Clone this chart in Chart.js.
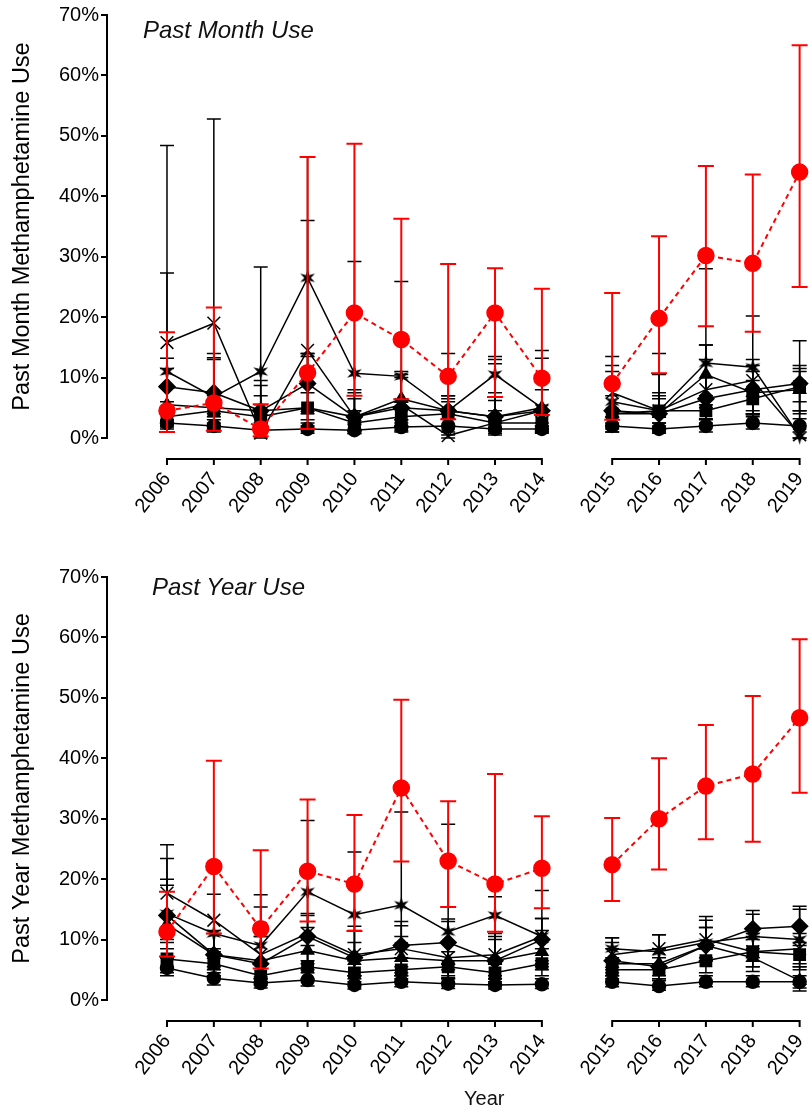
<!doctype html>
<html><head><meta charset="utf-8">
<script src="https://cdn.jsdelivr.net/npm/chart.js@4.4.1/dist/chart.umd.min.js"></script>
<style>
body{margin:0;background:#fff;width:812px;height:1114px;position:relative;overflow:hidden;font-family:"Liberation Sans",Arial,sans-serif;color:#111}
canvas{position:absolute;left:0}
#cMonth{top:0}#cYear{top:557px}
.ttl{position:absolute;font-style:italic;font-size:24px;line-height:26px;white-space:nowrap}
#year{position:absolute;left:464px;top:1086px;font-size:20px;line-height:24px}
</style></head><body>
<canvas id="cMonth" width="812" height="557"></canvas>
<canvas id="cYear" width="812" height="557"></canvas>
<div class="ttl" style="left:143px;top:17px">Past Month Use</div>
<div class="ttl" style="left:152px;top:574px">Past Year Use</div>
<div id="year">Year</div>
<script>
// 年份与横轴位置（2014 与 2015 之间断开 1.5 格）
const years = [2006, 2007, 2008, 2009, 2010, 2011, 2012, 2013, 2014, 2015, 2016, 2017, 2018, 2019];
const xPos = [0, 1, 2, 3, 4, 5, 6, 7, 8, 9.5, 10.5, 11.5, 12.5, 13.5];

// ---- Past Month（%）----
const monthRed   = [4.5, 5.8, 1.5, 10.8, 20.7, 16.3, 10.2, 20.7, 9.9, 9.0, 19.8, 30.2, 28.9, 44.0];
const monthRedLo = [1.0, 1.2, 0.3, 1.5, 7.0, 6.4, 3.1, 6.8, 3.8, 3.0, 10.7, 18.5, 17.6, 25.0];
const monthRedHi = [17.5, 21.6, 5.6, 46.5, 48.7, 36.3, 28.8, 28.1, 24.7, 24.0, 33.4, 45.0, 43.6, 65.0];

const monthX     = [15.8, 19.0, 0.8, 14.5, 3.5, 5.5, 0.4, 2.5, 4.5, 7.5, 4.5, 8.0, 9.5, 0.5];
const monthXLo   = [3.0, 4.0, 0.0, 1.5, 0.8, 1.2, 0.0, 0.5, 1.0, 2.5, 1.0, 2.0, 4.0, 0.0];
const monthXHi   = [48.4, 52.8, 5.5, 46.5, 8.0, 11.0, 7.0, 7.5, 9.5, 13.5, 10.5, 15.4, 13.0, 4.5];

const monthStar   = [11.0, 6.8, 11.0, 26.5, 10.7, 10.2, 4.5, 10.5, 5.0, 6.0, 4.5, 12.4, 11.7, 0.3];
const monthStarLo = [3.0, 2.0, 2.5, 14.0, 2.5, 2.5, 0.5, 6.2, 1.0, 1.0, 1.5, 5.0, 4.0, 0.0];
const monthStarHi = [27.3, 14.0, 28.3, 36.0, 29.2, 25.9, 14.0, 13.5, 14.5, 12.0, 14.0, 28.0, 20.2, 12.0];

const monthDia   = [8.5, 7.5, 4.5, 9.0, 3.5, 5.0, 4.5, 3.5, 4.5, 4.5, 4.0, 6.5, 8.0, 9.0];
const monthDiaLo = [4.0, 3.0, 1.5, 4.0, 1.2, 2.0, 2.0, 1.2, 2.0, 2.0, 2.0, 3.0, 4.5, 4.5];
const monthDiaHi = [13.2, 13.3, 9.5, 14.0, 7.5, 10.5, 7.0, 13.0, 13.2, 11.0, 7.5, 13.0, 12.0, 16.1];

const monthTri   = [5.5, 5.0, 4.5, 5.0, 3.5, 6.5, 4.5, 3.5, 5.0, 4.0, 4.0, 10.5, 7.5, 8.0];
const monthTriLo = [2.0, 1.5, 1.5, 2.0, 1.2, 3.0, 2.0, 1.2, 2.0, 1.5, 1.5, 5.5, 3.5, 4.0];
const monthTriHi = [11.5, 13.0, 8.7, 13.5, 6.5, 10.0, 6.0, 12.3, 8.0, 9.5, 6.5, 15.4, 11.0, 11.0];

const monthSq    = [3.5, 4.5, 3.5, 5.0, 2.5, 3.5, 4.0, 2.5, 2.5, 4.0, 4.5, 4.5, 6.5, 8.5];
const monthSqLo  = [1.8, 2.5, 1.5, 3.0, 1.2, 2.0, 2.0, 1.3, 1.3, 2.0, 2.5, 2.5, 4.0, 6.0];
const monthSqHi  = [6.0, 7.0, 7.0, 7.5, 4.5, 6.0, 6.5, 4.5, 4.5, 7.0, 7.0, 7.0, 9.5, 11.5];

const monthCir   = [2.5, 2.0, 1.3, 1.5, 1.3, 1.8, 2.0, 1.5, 1.5, 2.0, 1.5, 2.0, 2.5, 2.0];
const monthCirLo = [1.5, 1.0, 0.7, 0.8, 0.7, 1.0, 1.0, 0.8, 0.8, 1.0, 0.8, 1.0, 1.5, 1.0];
const monthCirHi = [4.0, 3.5, 2.5, 2.5, 2.2, 3.0, 3.2, 2.5, 2.5, 3.5, 2.5, 3.2, 3.8, 3.2];

// ---- Past Year（%）----
const yearRed   = [11.3, 22.1, 11.8, 21.3, 19.2, 35.1, 23.0, 19.2, 21.8, 22.4, 30.0, 35.4, 37.4, 46.7];
const yearRedLo = [7.2, 11.0, 5.2, 13.0, 11.4, 22.9, 15.4, 11.3, 15.2, 16.4, 21.6, 26.6, 26.2, 34.3];
const yearRedHi = [17.9, 39.6, 24.8, 33.2, 30.6, 49.7, 32.9, 37.4, 30.4, 30.1, 40.0, 45.5, 50.3, 59.7];

const yearX     = [17.7, 13.2, 7.5, 11.0, 7.5, 8.5, 7.0, 7.5, 10.5, 7.5, 8.5, 10.0, 8.0, 8.5];
const yearXLo   = [10.0, 8.0, 3.5, 6.0, 4.0, 4.5, 3.5, 4.0, 6.0, 5.0, 6.0, 7.0, 5.5, 6.0];
const yearXHi   = [25.7, 17.5, 15.4, 14.3, 12.2, 12.3, 13.4, 11.0, 13.5, 10.3, 10.8, 13.8, 11.0, 11.0];

const yearStar   = [14.3, 11.0, 9.0, 17.9, 14.1, 15.7, 11.3, 14.0, 10.5, 8.5, 8.0, 9.5, 10.5, 10.0];
const yearStarLo = [7.0, 5.5, 3.5, 9.0, 6.5, 7.0, 5.0, 6.0, 5.5, 6.5, 5.5, 6.5, 7.0, 5.0];
const yearStarHi = [23.4, 21.8, 17.4, 29.7, 24.5, 31.1, 29.1, 17.1, 18.1, 10.3, 10.8, 13.2, 14.8, 15.5];

const yearDia   = [14.0, 7.5, 6.0, 10.5, 7.0, 9.0, 9.5, 6.5, 10.0, 6.5, 5.5, 9.0, 11.8, 12.2];
const yearDiaLo = [8.5, 4.0, 3.0, 6.5, 4.0, 5.5, 6.0, 3.5, 6.5, 4.5, 3.5, 6.5, 8.5, 9.0];
const yearDiaHi = [20.0, 11.5, 10.5, 14.0, 11.5, 13.0, 13.0, 10.5, 13.5, 9.5, 8.5, 12.0, 14.2, 15.0];

const yearTri   = [12.5, 7.5, 6.5, 8.2, 6.5, 7.0, 6.5, 6.5, 8.0, 6.0, 6.0, 9.0, 7.0, 3.2];
const yearTriLo = [7.0, 4.5, 3.5, 5.0, 4.0, 4.0, 4.0, 3.5, 5.0, 4.0, 4.0, 6.5, 4.7, 1.5];
const yearTriHi = [19.0, 11.0, 10.5, 12.0, 9.5, 10.5, 9.5, 10.0, 11.5, 8.5, 8.5, 12.0, 10.0, 5.5];

const yearSq    = [6.8, 6.0, 4.0, 5.5, 4.5, 5.0, 5.5, 4.5, 6.0, 5.0, 5.0, 6.5, 8.0, 7.5];
const yearSqLo  = [4.5, 4.0, 2.5, 3.5, 3.0, 3.5, 3.5, 3.0, 4.0, 3.5, 3.5, 4.5, 5.5, 5.5];
const yearSqHi  = [9.5, 8.5, 6.0, 8.0, 6.5, 7.0, 8.0, 6.5, 8.5, 7.0, 7.0, 8.5, 10.5, 9.5];

const yearCir   = [5.3, 3.6, 2.8, 3.3, 2.5, 3.0, 2.7, 2.5, 2.6, 3.0, 2.3, 3.0, 3.0, 3.0];
const yearCirLo = [4.0, 2.5, 2.0, 2.3, 1.8, 2.2, 1.9, 1.8, 1.9, 2.2, 1.6, 2.2, 2.2, 2.0];
const yearCirHi = [7.0, 5.0, 3.8, 4.5, 3.5, 4.0, 3.7, 3.5, 3.5, 4.0, 3.2, 4.0, 4.0, 4.0];

const RED = '#ff0000', INK = '#000';
const FONT = '"Liberation Sans", Arial, sans-serif';

// 六角星点形（Chart.js 自带的 star 只是描边）
function starImage(size) {
  const c = document.createElement('canvas');
  c.width = c.height = size;
  const g = c.getContext('2d');
  const r = size / 2, ri = r * 0.38;
  g.fillStyle = INK;
  g.beginPath();
  for (let k = 0; k < 12; k++) {
    const a = -Math.PI / 2 + k * Math.PI / 6, rr = k % 2 ? ri : r;
    g.lineTo(r + rr * Math.cos(a), r + rr * Math.sin(a));
  }
  g.closePath();
  g.fill();
  return c;
}
const STAR = starImage(17);

// 2014→2015 断开，不连线
const gapSegment = { borderColor: (c) => (c.p0DataIndex === 8 ? 'rgba(0,0,0,0)' : undefined) };

function series(vals, lo, hi, look) {
  return Object.assign({
    data: xPos.map((x, i) => ({ x, y: vals[i] })),
    errLo: lo, errHi: hi,
    borderColor: INK, backgroundColor: INK, pointBackgroundColor: INK, pointBorderColor: INK,
    borderWidth: 1.5, pointBorderWidth: 1.5, pointRadius: 6,
    errWidth: 1.5, cap: 7,
    clip: false, segment: gapSegment,
  }, look);
}

const redLook = { borderColor: RED, backgroundColor: RED, pointBackgroundColor: RED, pointBorderColor: RED,
  borderWidth: 2, borderDash: [5, 4], pointRadius: 8, errWidth: 2, cap: 8 };

// 误差线：每个数据集在自己的折线之前画
const errorBars = {
  id: 'errorBars',
  beforeDatasetDraw(chart, args) {
    const ds = chart.data.datasets[args.index];
    const { ctx, scales: { x, y } } = chart;
    ctx.save();
    ctx.strokeStyle = ds.borderColor;
    ctx.lineWidth = ds.errWidth;
    ds.data.forEach((p, j) => {
      const px = x.getPixelForValue(p.x);
      const lo = y.getPixelForValue(ds.errLo[j]), hi = y.getPixelForValue(ds.errHi[j]);
      ctx.beginPath();
      ctx.moveTo(px, lo); ctx.lineTo(px, hi);
      ctx.moveTo(px - ds.cap, hi); ctx.lineTo(px + ds.cap, hi);
      ctx.moveTo(px - ds.cap, lo); ctx.lineTo(px + ds.cap, lo);
      ctx.stroke();
    });
    ctx.restore();
  },
};

// 断开的横轴：两段轴线，偏移在数据区下方
const brokenAxis = {
  id: 'brokenAxis',
  afterDraw(chart, args, opts) {
    const { ctx, chartArea, scales: { x } } = chart;
    const yy = chartArea.bottom + opts.offset;
    ctx.save();
    ctx.strokeStyle = INK;
    ctx.lineWidth = 2;
    [[0, 8], [9, 13]].forEach(([a, b]) => {
      ctx.beginPath();
      ctx.moveTo(x.getPixelForValue(xPos[a]) - 1, yy);
      ctx.lineTo(x.getPixelForValue(xPos[b]) + 1, yy);
      for (let i = a; i <= b; i++) {
        const px = x.getPixelForValue(xPos[i]);
        ctx.moveTo(px, yy);
        ctx.lineTo(px, yy + 6);
      }
      ctx.stroke();
    });
    ctx.restore();
  },
};

function makeChart(id, yTitle, padTop, xHeight, sets) {
  return new Chart(document.getElementById(id), {
    type: 'line',
    data: { datasets: sets },
    plugins: [errorBars, brokenAxis],
    options: {
      responsive: false,
      animation: false,
      events: [],
      layout: { padding: { top: padTop, left: 0, right: 0, bottom: 0 } },
      plugins: { legend: { display: false }, tooltip: { enabled: false }, brokenAxis: { offset: 21 } },
      scales: {
        x: {
          type: 'linear', min: -1.28, max: 13.54,
          afterBuildTicks: (s) => { s.ticks = xPos.map((v) => ({ value: v })); },
          afterFit: (s) => { s.height = xHeight; s.paddingLeft = 0; s.paddingRight = 0; },
          grid: { display: false, drawTicks: false },
          border: { display: false },
          ticks: {
            autoSkip: false, minRotation: 52, maxRotation: 52, padding: 30,
            color: INK, font: { family: FONT, size: 20 },
            callback: (v, i) => years[i],
          },
        },
        y: {
          min: 0, max: 70,
          afterFit: (s) => { s.width = 107; s.paddingTop = 0; s.paddingBottom = 0; },
          grid: { drawOnChartArea: false, drawTicks: true, tickLength: 6, color: INK, lineWidth: 2 },
          border: { display: true, color: INK, width: 2 },
          ticks: { stepSize: 10, padding: 2, color: INK, font: { family: FONT, size: 20 }, callback: (v) => v + '%' },
          title: { display: true, text: yTitle, color: INK, font: { family: FONT, size: 23.5 }, padding: { top: 8, bottom: 0 } },
        },
      },
    },
  });
}

makeChart('cMonth', 'Past Month Methamphetamine Use', 15, 119, [
  series(monthRed, monthRedLo, monthRedHi, redLook),
  series(monthStar, monthStarLo, monthStarHi, { pointStyle: STAR }),
  series(monthX, monthXLo, monthXHi, { pointStyle: 'crossRot', pointRadius: 9 }),
  series(monthDia, monthDiaLo, monthDiaHi, { pointStyle: 'rectRot', pointRadius: 8 }),
  series(monthTri, monthTriLo, monthTriHi, { pointStyle: 'triangle', pointRadius: 7 }),
  series(monthSq, monthSqLo, monthSqHi, { pointStyle: 'rect', pointRadius: 8 }),
  series(monthCir, monthCirLo, monthCirHi, { pointStyle: 'circle', pointRadius: 6.5 }),
]);

makeChart('cYear', 'Past Year Methamphetamine Use', 20, 114, [
  series(yearRed, yearRedLo, yearRedHi, redLook),
  series(yearStar, yearStarLo, yearStarHi, { pointStyle: STAR }),
  series(yearX, yearXLo, yearXHi, { pointStyle: 'crossRot', pointRadius: 9 }),
  series(yearDia, yearDiaLo, yearDiaHi, { pointStyle: 'rectRot', pointRadius: 8 }),
  series(yearTri, yearTriLo, yearTriHi, { pointStyle: 'triangle', pointRadius: 7 }),
  series(yearSq, yearSqLo, yearSqHi, { pointStyle: 'rect', pointRadius: 8 }),
  series(yearCir, yearCirLo, yearCirHi, { pointStyle: 'circle', pointRadius: 6.5 }),
]);
</script>
</body></html>
